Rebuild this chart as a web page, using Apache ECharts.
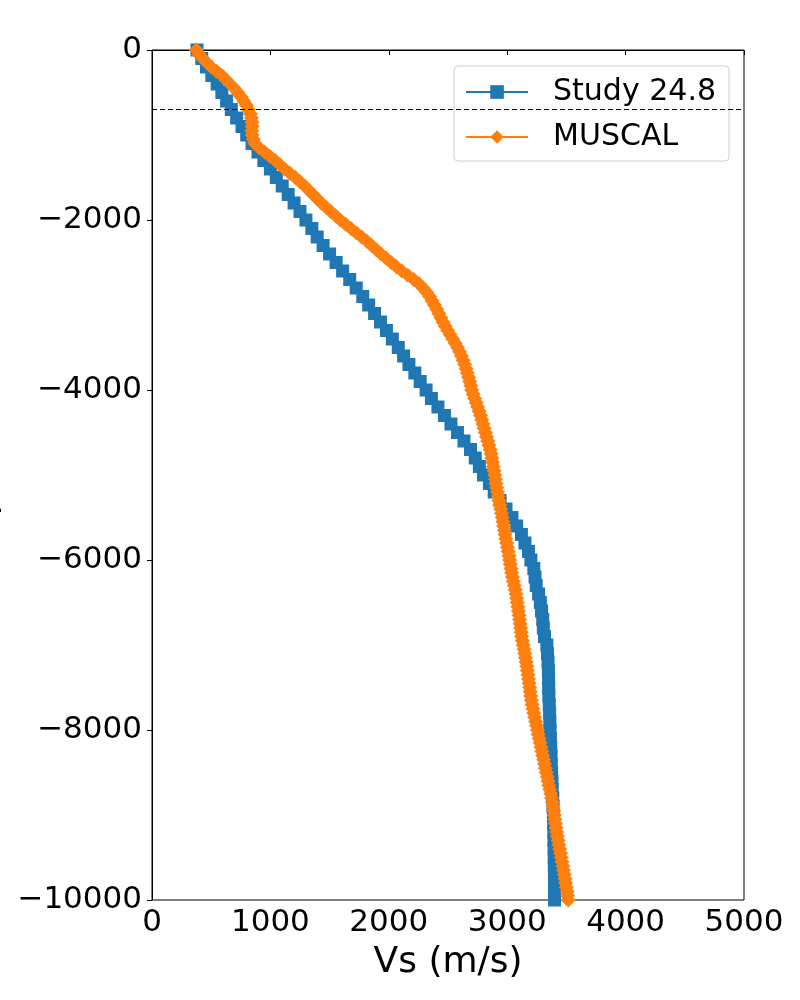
<!DOCTYPE html>
<html>
<head>
<meta charset="utf-8">
<script src="https://cdn.jsdelivr.net/npm/echarts@6/dist/echarts.min.js"></script>
<style>
  html, body { margin: 0; padding: 0; background: #fff; }
  #chart { width: 800px; height: 1000px; }
</style>
</head>
<body>
<div id="chart"></div>
<script>
// Study 24.8: one sample every 100 m
var studyDepths = [
  0, 100, 200, 300, 400, 500, 600, 700, 800, 900,
  1000, 1100, 1200, 1300, 1400, 1500, 1600, 1700, 1800, 1900,
  2000, 2100, 2200, 2300, 2400, 2500, 2600, 2700, 2800, 2900,
  3000, 3100, 3200, 3300, 3400, 3500, 3600, 3700, 3800, 3900,
  4000, 4100, 4200, 4300, 4400, 4500, 4600, 4700, 4800, 4900,
  5000, 5100, 5200, 5300, 5400, 5500, 5600, 5700, 5800, 5900,
  6000, 6100, 6200, 6300, 6400, 6500, 6600, 6700, 6800, 6900,
  7000, 7100, 7200, 7300, 7400, 7500, 7600, 7700, 7800, 7900,
  8000, 8100, 8200, 8300, 8400, 8500, 8600, 8700, 8800, 8900,
  9000, 9100, 9200, 9300, 9400, 9500, 9600, 9700, 9800, 9900,
  10000
]
var studyVs = [
  380, 420, 460, 505, 550, 590, 630, 670, 715, 760,
  800, 845, 895, 945, 1000, 1050, 1100, 1150, 1200, 1250,
  1300, 1350, 1395, 1445, 1500, 1555, 1610, 1670, 1725, 1780,
  1830, 1880, 1930, 1980, 2030, 2080, 2125, 2170, 2220, 2265,
  2315, 2360, 2415, 2470, 2525, 2580, 2635, 2690, 2730, 2765,
  2800, 2850, 2890, 2940, 2990, 3040, 3080, 3120, 3150, 3180,
  3200, 3225, 3235, 3245, 3265, 3280, 3290, 3300, 3305, 3315,
  3335, 3340, 3345, 3348, 3350, 3350, 3352, 3355, 3358, 3360,
  3362, 3365, 3368, 3370, 3372, 3375, 3378, 3380, 3385, 3387,
  3390, 3392, 3394, 3395, 3396, 3397, 3398, 3399, 3400, 3400,
  3400
]

// MUSCAL: one sample every 50 m
var muscalDepths = [
  0, 50, 100, 150, 200, 250, 300, 350, 400, 450,
  500, 550, 600, 650, 700, 750, 800, 850, 900, 950,
  1000, 1050, 1100, 1150, 1200, 1250, 1300, 1350, 1400, 1450,
  1500, 1550, 1600, 1650, 1700, 1750, 1800, 1850, 1900, 1950,
  2000, 2050, 2100, 2150, 2200, 2250, 2300, 2350, 2400, 2450,
  2500, 2550, 2600, 2650, 2700, 2750, 2800, 2850, 2900, 2950,
  3000, 3050, 3100, 3150, 3200, 3250, 3300, 3350, 3400, 3450,
  3500, 3550, 3600, 3650, 3700, 3750, 3800, 3850, 3900, 3950,
  4000, 4050, 4100, 4150, 4200, 4250, 4300, 4350, 4400, 4450,
  4500, 4550, 4600, 4650, 4700, 4750, 4800, 4850, 4900, 4950,
  5000, 5050, 5100, 5150, 5200, 5250, 5300, 5350, 5400, 5450,
  5500, 5550, 5600, 5650, 5700, 5750, 5800, 5850, 5900, 5950,
  6000, 6050, 6100, 6150, 6200, 6250, 6300, 6350, 6400, 6450,
  6500, 6550, 6600, 6650, 6700, 6750, 6800, 6850, 6900, 6950,
  7000, 7050, 7100, 7150, 7200, 7250, 7300, 7350, 7400, 7450,
  7500, 7550, 7600, 7650, 7700, 7750, 7800, 7850, 7900, 7950,
  8000, 8050, 8100, 8150, 8200, 8250, 8300, 8350, 8400, 8450,
  8500, 8550, 8600, 8650, 8700, 8750, 8800, 8850, 8900, 8950,
  9000, 9050, 9100, 9150, 9200, 9250, 9300, 9350, 9400, 9450,
  9500, 9550, 9600, 9650, 9700, 9750, 9800, 9850, 9900, 9950,
  10000
]
var muscalVs = [
  375, 395, 430, 462, 500, 545, 590, 625, 660, 695,
  725, 752, 775, 797, 815, 830, 840, 845, 845, 843,
  845, 855, 870, 905, 950, 995, 1040, 1080, 1120, 1165,
  1210, 1250, 1290, 1325, 1360, 1395, 1430, 1470, 1510, 1550,
  1590, 1635, 1680, 1725, 1770, 1815, 1855, 1895, 1935, 1978,
  2020, 2065, 2110, 2160, 2210, 2255, 2290, 2320, 2345, 2365,
  2385, 2405, 2423, 2440, 2457, 2477, 2497, 2518, 2540, 2560,
  2580, 2598, 2614, 2628, 2641, 2653, 2664, 2674, 2683, 2692,
  2700, 2712, 2725, 2738, 2750, 2763, 2775, 2785, 2795, 2805,
  2815, 2825, 2835, 2845, 2855, 2863, 2870, 2877, 2883, 2889,
  2895, 2900, 2905, 2912, 2918, 2924, 2930, 2938, 2945, 2952,
  2958, 2964, 2970, 2976, 2982, 2989, 2995, 3002, 3008, 3014,
  3020, 3026, 3032, 3038, 3045, 3052, 3060, 3068, 3075, 3080,
  3085, 3090, 3095, 3100, 3105, 3109, 3113, 3118, 3122, 3128,
  3135, 3142, 3148, 3154, 3160, 3165, 3170, 3175, 3180, 3185,
  3190, 3194, 3198, 3204, 3210, 3218, 3225, 3232, 3240, 3248,
  3255, 3262, 3270, 3278, 3285, 3292, 3300, 3308, 3315, 3322,
  3330, 3338, 3345, 3352, 3360, 3368, 3375, 3381, 3387, 3392,
  3397, 3402, 3407, 3412, 3418, 3424, 3430, 3436, 3443, 3450,
  3456, 3463, 3470, 3476, 3482, 3488, 3493, 3499, 3505, 3510,
  3515
]

var refDepth = -700   // dashed line
var seriesNames = ['Study 24.8', 'MUSCAL']

function toPairs(vs, ds) {
  return vs.map(function (v, i) { return [v, -ds[i]] })
}

var font = 'DejaVu Sans'
var chart = echarts.init(document.getElementById('chart'))

var option = {
  animation: false,
  backgroundColor: '#fff',
  color: ['#1f77b4', '#ff7f0e'],
  grid: {
    left: 152, right: 56, top: 50, bottom: 100,
    containLabel: false,
    outerBoundsMode: 'none',
    show: true, borderColor: '#000', borderWidth: 1, backgroundColor: 'transparent'
  },
  legend: {
    orient: 'vertical',
    right: 71,
    top: 66,
    padding: [11, 13, 9, 11],
    itemGap: 15,
    itemWidth: 62,
    itemHeight: 17,
    backgroundColor: 'rgba(255,255,255,0.8)',
    borderColor: '#d0d0d0',
    borderWidth: 1,
    borderRadius: 4,
    textStyle: { fontFamily: font, fontSize: 30, color: '#000', padding: [0, 0, 0, 20] },
    data: seriesNames
  },
  xAxis: {
    type: 'value',
    min: 0, max: 5000, interval: 1000,
    name: 'Vs (m/s)',
    nameLocation: 'middle',
    nameGap: 45,
    nameTextStyle: { fontFamily: font, fontSize: 36, color: '#000' },
    axisLine: { show: true, lineStyle: { color: '#000', width: 1 } },
    axisTick: { show: true, length: 5, lineStyle: { color: '#000' } },
    axisLabel: {
      fontFamily: font, fontSize: 31, color: '#000', margin: 7,
      formatter: function (v) { return String(v) }
    },
    splitLine: { show: false }
  },
  yAxis: {
    type: 'value',
    min: -10000, max: 0, interval: 2000,
    name: 'Depth (m)',
    nameLocation: 'middle',
    nameRotate: 90,
    nameGap: 150,
    nameTextStyle: { fontFamily: font, fontSize: 34, color: '#000' },
    axisLine: { show: true, lineStyle: { color: '#000', width: 1 } },
    axisTick: { show: true, length: 5, lineStyle: { color: '#000' } },
    axisLabel: {
      fontFamily: font, fontSize: 31, color: '#000', margin: 10,
      formatter: function (v) { return String(v).replace('-', '\u2212') }
    },
    splitLine: { show: false }
  },
  series: [
    {
      name: seriesNames[0],
      type: 'line',
      data: toPairs(studyVs, studyDepths),
      symbol: 'rect',
      symbolSize: 13,
      showAllSymbol: true,
      lineStyle: { width: 1.5 },
      z: 2,
      markLine: {
        silent: true,
        symbol: 'none',
        label: { show: false },
        lineStyle: { color: '#000', type: [5, 3], width: 1 },
        data: [{ yAxis: refDepth }]
      }
    },
    {
      name: seriesNames[1],
      type: 'line',
      data: toPairs(muscalVs, muscalDepths),
      symbol: 'diamond',
      symbolSize: 15,
      showAllSymbol: true,
      lineStyle: { width: 1.5 },
      z: 3
    }
  ]
}
chart.setOption(option)
</script>
</body>
</html>
